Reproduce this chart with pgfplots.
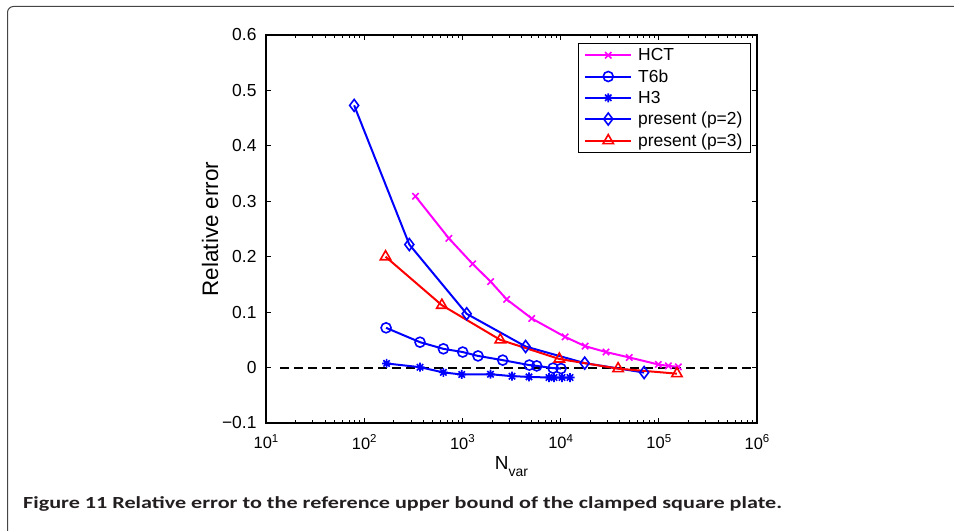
\documentclass[border=0pt]{standalone}
\usepackage{pgfplots}
\pgfplotsset{compat=1.18}
\usepackage{fontspec}
\setmainfont{Liberation Sans}
\newfontfamily\capfont{Carlito}

\definecolor{mtmagenta}{rgb}{1,0,1}
\definecolor{mtblue}{rgb}{0,0,1}
\definecolor{mtred}{rgb}{1,0,0}
\definecolor{framegray}{rgb}{0.27,0.27,0.27}

% eight-spoke asterisk (plus and cross)
\pgfdeclareplotmark{mstar}{%
  \pgfpathmoveto{\pgfqpoint{-\pgfplotmarksize}{0pt}}%
  \pgfpathlineto{\pgfqpoint{\pgfplotmarksize}{0pt}}%
  \pgfpathmoveto{\pgfqpoint{0pt}{-\pgfplotmarksize}}%
  \pgfpathlineto{\pgfqpoint{0pt}{\pgfplotmarksize}}%
  \pgfpathmoveto{\pgfqpoint{-0.707\pgfplotmarksize}{-0.707\pgfplotmarksize}}%
  \pgfpathlineto{\pgfqpoint{0.707\pgfplotmarksize}{0.707\pgfplotmarksize}}%
  \pgfpathmoveto{\pgfqpoint{-0.707\pgfplotmarksize}{0.707\pgfplotmarksize}}%
  \pgfpathlineto{\pgfqpoint{0.707\pgfplotmarksize}{-0.707\pgfplotmarksize}}%
  \pgfusepathqstroke}

\newcommand\dec[1]{10\raisebox{6.5bp}{\fontsize{11.5}{11}\selectfont #1}}

\begin{document}
\begin{tikzpicture}[x=1bp,y=1bp]
\path[use as bounding box] (0,0) rectangle (954,531);
\begin{scope}
  \clip (0,0) rectangle (954,531);
  \draw[line width=1bp, color=framegray, rounded corners=6bp]
    (7.5,-20) -- (7.5,524.5) -- (980,524.5);
\end{scope}

\begin{axis}[
  at={(266bp,108bp)}, anchor=south west,
  scale only axis, width=491bp, height=388bp,
  xmode=log, xmin=10, xmax=1e6, ymin=-0.1, ymax=0.6,
  xtick={10,100,1000,10000,100000,1000000},
  xticklabels={\dec{1},\dec{2},\dec{3},\dec{4},\dec{5},\dec{6}},
  ytick={-0.1,0,0.1,0.2,0.3,0.4,0.5,0.6},
  yticklabels={−0.1,0,0.1,0.2,0.3,0.4,0.5,0.6},
  xticklabel style={font=\fontsize{16.5}{18}\selectfont, yshift=-8bp},
  yticklabel style={font=\fontsize{17.5}{18}\selectfont, xshift=-6bp},
  axis line style={line width=1.3bp},
  tick style={black, line width=0.8bp},
  major tick length=5bp, minor tick length=3bp,
  xlabel={\fontsize{19}{22}\selectfont N\raisebox{-7bp}{\fontsize{14}{14}\selectfont var}},
  ylabel={\fontsize{22.5}{26}\selectfont Relative error},
  xlabel style={at={(axis description cs:0.5,-0.1186)}, anchor=base},
  ylabel style={at={(axis description cs:-0.114,0.5)}, anchor=center, rotate=0},
  legend cell align=left,
  legend image code/.code={%
    \draw[mark repeat=2,mark phase=2] plot coordinates {(0bp,0bp) (23bp,0bp) (46bp,0bp)};},
  legend style={at={(1,1)}, anchor=north east, xshift=-6bp, yshift=-8bp,
    draw=black, line width=1.2bp, fill=white,
    font=\fontsize{17.5}{20}\selectfont,
    inner xsep=6bp, inner ysep=2.8bp, row sep=3.4bp, column sep=4bp},
]
% reference level
\addplot[black, line width=2bp, dash pattern=on 9bp off 5bp, forget plot]
  coordinates {(14,0) (1e6,0)};

\addplot[mtmagenta, line width=2bp, mark=x, mark size=4.5bp, mark options={solid, line width=1.6bp}]
  coordinates {
  (333,0.309) (729,0.233) (1270,0.187) (1940,0.155) (2825,0.123) (5080,0.0886)
  (11090,0.0554) (17740,0.0386) (28990,0.0280) (50100,0.0182) (98900,0.0056)
  (125000,0.0030) (158000,0.0013)};
\addlegendentry{HCT}

\addplot[mtblue, line width=2bp, mark=o, mark size=5bp, mark options={solid, line width=1.6bp}]
  coordinates {
  (167,0.0717) (370,0.0458) (640,0.0338) (1007,0.0280) (1442,0.0210) (2572,0.0134)
  (4800,0.0045) (5710,0.0030) (8380,-0.0010) (10090,-0.0018)};
\addlegendentry{T6b}

\addplot[mtblue, line width=2bp, mark=mstar, mark size=4.5bp, mark options={solid, line width=1.6bp}]
  coordinates {
  (169,0.0074) (370,0.0007) (640,-0.0088) (984,-0.0125) (1932,-0.0120) (3200,-0.0155)
  (4765,-0.0168) (7620,-0.0180) (8570,-0.0180) (10330,-0.0180) (12470,-0.0180)};
\addlegendentry{H3}

\addplot[mtblue, line width=2bp, mark=diamond, mark size=6bp, mark options={solid, line width=1.6bp}]
  coordinates {
  (79,0.473) (288,0.222) (1105,0.097) (4400,0.038) (17600,0.008) (70900,-0.009)};
\addlegendentry{present (p=2)}

\addplot[mtred, line width=2bp, mark=triangle, mark size=6bp, mark options={solid, line width=1.6bp}]
  coordinates {
  (165,0.200) (618,0.1125) (2430,0.050) (9700,0.0155) (38500,-0.002) (153000,-0.011)};
\addlegendentry{present (p=3)}
\end{axis}

\node[anchor=base west, inner sep=0pt, text={rgb,255:red,35;green,31;blue,32}]
  at (23,22.5) {\resizebox{759bp}{\height}{\capfont\bfseries\fontsize{17}{20}\selectfont Figure 11 Relative error to the reference upper bound of the clamped square plate.}};
\end{tikzpicture}
\end{document}
